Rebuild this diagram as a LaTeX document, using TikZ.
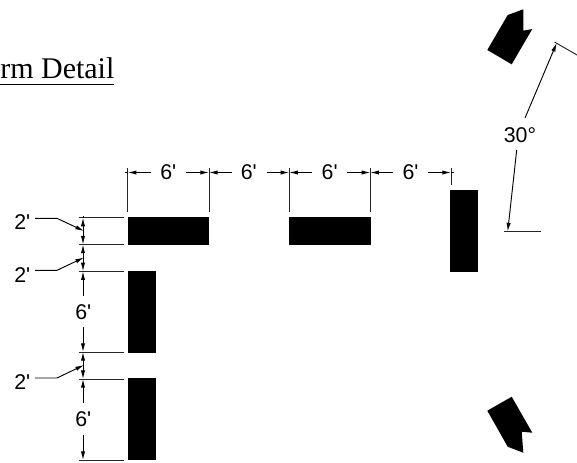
\documentclass[tikz,border=0pt]{standalone}
\usepackage{fontspec}
\setmainfont{Liberation Sans}
\newfontfamily\titlefont{Liberation Serif}
\newfontfamily\lblfont{Liberation Sans}
\usetikzlibrary{arrows.meta}
\tikzset{
  dimline/.style={line width=0.7pt,black},
  extline/.style={line width=0.7pt,black!85},
  tip/.style={-{Latex[length=6.5pt,width=3.2pt]}},
  tipboth/.style={{Latex[length=6.5pt,width=3.2pt]}-{Latex[length=6.5pt,width=3.2pt]}},
  lbl/.style={font=\lblfont\fontsize{16}{16}\selectfont,inner sep=0pt,text=black},
  solid block/.style={fill=black,draw=none}
}
\begin{document}
\begin{tikzpicture}[x=0.75pt,y=-0.75pt]
\useasboundingbox (0,0) rectangle (577,462);
% blocks
\fill[solid block] (127.6,217) rectangle (209.3,245);
\fill[solid block] (289,217) rectangle (370.8,245);
\fill[solid block] (450,190) rectangle (478,272);
\fill[solid block] (127.6,270.7) rectangle (155.6,352.7);
\fill[solid block] (127.6,378) rectangle (155.6,460);
\fill[solid block] (487.3,50) -- (511.7,64.3) -- (532.3,29) -- (523.3,30.7) -- (523.3,9.3) -- (507.7,15) -- cycle;
\fill[solid block] (487.3,410.7) -- (511.7,396.7) -- (532.3,432.7) -- (521.7,431.7) -- (523.3,452.7) -- (507.7,446.7) -- cycle;
% title
\node[font=\titlefont\fontsize{22.5}{22.5}\selectfont,anchor=base west,inner sep=0pt] (title) at (0,78) {rm Detail};
\draw[line width=0.75pt] (0,84.5) -- (114,84.5);
% horizontal dimension labels
\node[lbl] (h1) at (168.3,172) {6'};
\node[lbl] (h2) at (248.8,172) {6'};
\node[lbl] (h3) at (329.7,172) {6'};
\node[lbl] (h4) at (410.5,172) {6'};
% horizontal dimension coordinates
\coordinate (xa) at (127.7,172.5);
\coordinate (xb) at (209,172.5);
\coordinate (xc) at (289.3,172.5);
\coordinate (xd) at (370.3,172.5);
\coordinate (xe) at (451,172.5);
\foreach \c/\e in {xa/212,xb/212,xc/212,xd/212,xe/185}
  \draw[extline] ([yshift=3.4pt]\c) -- (\c |- 0,\e);
\coordinate (h1l) at (150.7,172.5);
\coordinate (h1r) at (186,172.5);
\coordinate (h2l) at (231.7,172.5);
\coordinate (h2r) at (266.7,172.5);
\coordinate (h3l) at (312,172.5);
\coordinate (h3r) at (347.3,172.5);
\coordinate (h4l) at (392.7,172.5);
\coordinate (h4r) at (428,172.5);
\draw[dimline,tip] (h1l) -- (xa);
\draw[dimline,tip] (h1r) -- (xb);
\draw[dimline,tip] (h2l) -- (xb);
\draw[dimline,tip] (h2r) -- (xc);
\draw[dimline,tip] (h3l) -- (xc);
\draw[dimline,tip] (h3r) -- (xd);
\draw[dimline,tip] (h4l) -- (xd);
\draw[dimline,tip] (h4r) -- (xe);
\draw[dimline] (xa) ++(-3,0) -- (xa);
\draw[dimline] (xe) ++(3,0) -- (xe);
% vertical dimension coordinates
\coordinate (ya) at (83,217.7);
\coordinate (yb) at (83,244.5);
\coordinate (yc) at (83,271.3);
\coordinate (yd) at (83,352);
\coordinate (ye) at (83,379);
\coordinate (yf) at (83,460);
\foreach \c in {ya,yb,yc,yd,ye,yf}
  \draw[extline] ([xshift=-3pt]\c) -- ([xshift=31pt]\c);
\draw[dimline,tipboth] (ya) -- (yb);
\draw[dimline,tipboth] (yb) -- (yc);
\draw[dimline,tipboth] (yd) -- (ye);
\node[lbl] (v1) at (83.3,312) {6'};
\node[lbl] (v2) at (83.3,419) {6'};
\coordinate (v1t) at (83,296);
\coordinate (v1b) at (83,327);
\coordinate (v2t) at (83,403);
\coordinate (v2b) at (83,435);
\draw[dimline,tip] (v1t) -- (yc);
\draw[dimline,tip] (v1b) -- (yd);
\draw[dimline,tip] (v2t) -- (ye);
\draw[dimline,tip] (v2b) -- (yf);
\draw[dimline] (ya) ++(0,-2) -- (ya);
% leaders
\node[lbl] (l1) at (22.3,222.5) {2'};
\node[lbl] (l2) at (22.3,274.7) {2'};
\node[lbl] (l3) at (22.3,381.7) {2'};
\coordinate (la) at (84,231);
\coordinate (lb) at (84,257.5);
\coordinate (lc) at (84,365);
\draw[dimline,tip] (35,218.3) -- (57,218.3) -- (la);
\draw[dimline,tip] (35,270.3) -- (57,270.3) -- (lb);
\draw[dimline,tip] (35,378) -- (57,378) -- (lc);
% angle
\node[lbl] (ang) at (520,135) {30°};
\coordinate (at) at (556.7,43);
\coordinate (ab) at (507.7,231.5);
\draw[extline] (554.5,42) -- (577,55);
\draw[extline] (503.5,231.5) -- (540.5,231.5);
\draw[dimline,tip] (525,118) -- (at);
\draw[dimline,tip] (516.7,150) -- (ab);
\end{tikzpicture}
\end{document}
